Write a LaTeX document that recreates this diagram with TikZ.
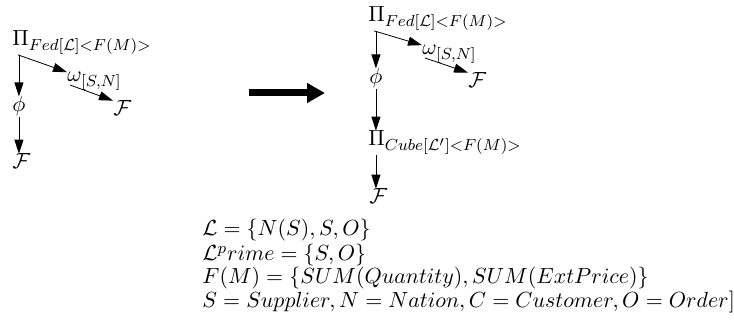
\documentclass[tikz,border=0pt]{standalone}
\usepackage{amsmath}
\usepackage{amssymb}
\usepackage{tikz}
\usetikzlibrary{arrows.meta,calc}
\DeclareMathSizes{11}{11}{8.5}{7}

\begin{document}
\begin{tikzpicture}[
  x=0.5pt, y=-0.5pt,
  font=\fontsize{11}{13}\selectfont,
  term/.style={inner sep=0pt, anchor=base west},
  opedge/.style={-{Triangle[length=7pt,width=4.5pt]}},
  rewrite/.style={line width=3.5pt, -{Triangle[length=9pt,width=9.5pt]}}
]
\useasboundingbox (0,0) rectangle (734,331);
% plan before the rewrite
\node[term] (fed1) at (12,46) {$\Pi_{Fed[\mathcal{L}]<F(M)>}$};
\node[term] (phi1) at (12,112) {$\phi$};
\node[term] (out1) at (12,169) {$\mathcal{F}$};
\node[term] (om1) at (67,82) {$\omega_{[S,N]}$};
\node[term] (res1) at (113,116) {$\mathcal{F}$};
\draw[opedge] (phi1.north |- fed1.south) -- (phi1.north);
\draw[opedge] (phi1.south) -- (phi1.south |- out1.north);
\draw[opedge] ([xshift=3pt]fed1.south west) -- (om1.north west);
\draw[opedge] ($(om1.base west)+(3,3)$) -- (res1.north west);
% rewrite arrow
\coordinate (from) at (249,93);
\coordinate (to) at (325,93);
\draw[rewrite] (from) -- (to);
% plan after the rewrite
\node[term] (fed2) at (368,22) {$\Pi_{Fed[\mathcal{L}]<F(M)>}$};
\node[term] (phi2) at (369,84) {$\phi$};
\node[term] (cube2) at (368,146) {$\Pi_{Cube[\mathcal{L}']<F(M)>}$};
\node[term] (out2) at (369,204) {$\mathcal{F}$};
\node[term] (om2) at (422,55) {$\omega_{[S,N]}$};
\node[term] (res2) at (468,88) {$\mathcal{F}$};
\draw[opedge] (phi2.north |- fed2.south) -- (phi2.north);
\draw[opedge] (phi2.south) -- (phi2.south |- cube2.north);
\draw[opedge] (phi2.south |- cube2.south) -- (phi2.south |- out2.north);
\draw[opedge] ([xshift=3pt]fed2.south west) -- (om2.north west);
\draw[opedge] ($(om2.base west)+(3,3)$) -- (res2.north west);
% definitions
\node[term] (eq1) at (202,236) {$\mathcal{L} = \{N(S), S, O\}$};
\node[term] (eq2) at (202,261) {$\mathcal{L}^prime = \{S, O\}$};
\node[term] (eq3) at (202,284) {$F(M) = \{SUM(Quantity), SUM(ExtPrice)\}$};
\node[term] (eq4) at (202,307) {$S = Supplier, N = Nation, C = Customer, O = Order]$};
\end{tikzpicture}
\end{document}
